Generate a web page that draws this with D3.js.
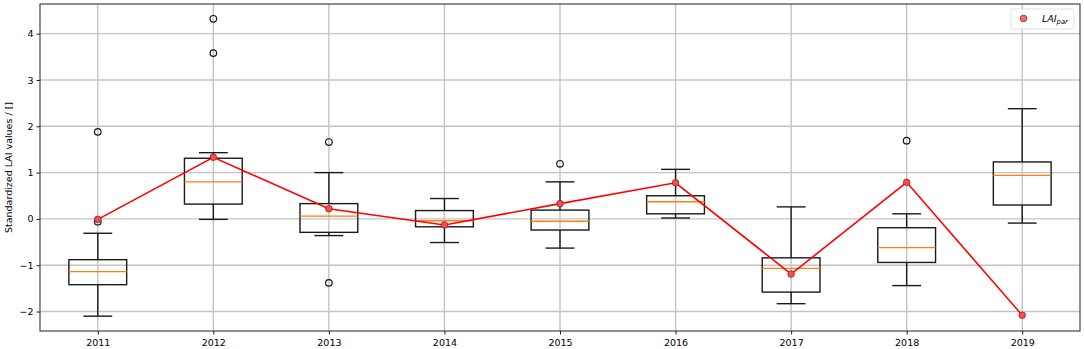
<!DOCTYPE html>
<html>
<head>
<meta charset="utf-8">
<script src="https://cdn.jsdelivr.net/npm/d3@7"></script>
<style>
  body { margin: 0; background: #fff; }
  svg { display: block; font-family: "DejaVu Sans", sans-serif; }
</style>
</head>
<body>
<svg id="boxPlot" width="1084" height="349"></svg>
<script>
// data
const years = ["2011", "2012", "2013", "2014", "2015", "2016", "2017", "2018", "2019"];
const whisker_low = [-2.10, -0.01, -0.36, -0.51, -0.63, 0.02, -1.83, -1.44, -0.09];
const q1 = [-1.42, 0.32, -0.29, -0.17, -0.24, 0.11, -1.58, -0.94, 0.30];
const medians = [-1.14, 0.80, 0.06, -0.04, -0.05, 0.37, -1.07, -0.62, 0.94];
const q3 = [-0.88, 1.31, 0.33, 0.18, 0.19, 0.50, -0.84, -0.19, 1.23];
const whisker_high = [-0.31, 1.43, 1.00, 0.44, 0.80, 1.07, 0.26, 0.11, 2.38];
const outliers = [[1.88, -0.06], [4.32, 3.58], [1.66, -1.38], [], [1.19], [], [], [1.69], []];
const lai_par = [-0.01, 1.33, 0.22, -0.13, 0.33, 0.78, -1.19, 0.79, -2.08];
const y_ticks = [-2, -1, 0, 1, 2, 3, 4];

const margin = { top: 4, right: 4, bottom: 18, left: 40 };
const svg = d3.select("#boxPlot");
const width = 1084 - margin.left - margin.right;
const height = 349 - margin.top - margin.bottom;

const x_scale = d3.scaleLinear().domain([0.5, 9.5]).range([0, width]);
const y_scale = d3.scaleLinear().domain([-2.42, 4.64]).range([height, 0]);

const g = svg.append("g")
    .attr("transform", `translate(${margin.left}, ${margin.top})`);

// grid
g.append("g").selectAll("line").data(years).join("line")
    .attr("x1", (d, i) => x_scale(i + 1)).attr("x2", (d, i) => x_scale(i + 1))
    .attr("y1", 0).attr("y2", height)
    .attr("stroke", "#c4c4c4").attr("stroke-width", 1.4);
g.append("g").selectAll("line").data(y_ticks).join("line")
    .attr("x1", 0).attr("x2", width)
    .attr("y1", (d) => y_scale(d)).attr("y2", (d) => y_scale(d))
    .attr("stroke", "#c4c4c4").attr("stroke-width", 1.4);

// boxes
const boxes = g.append("g").selectAll("g").data(years).join("g");
const half_box = (x_scale(1.25) - x_scale(1));
const half_cap = (x_scale(1.125) - x_scale(1));
const box_color = "#1a1a1a";
const box_width = 1.4;

boxes.append("line") // lower whisker
    .attr("x1", (d, i) => x_scale(i + 1)).attr("x2", (d, i) => x_scale(i + 1))
    .attr("y1", (d, i) => y_scale(q1[i])).attr("y2", (d, i) => y_scale(whisker_low[i]))
    .attr("stroke", box_color).attr("stroke-width", box_width);
boxes.append("line") // upper whisker
    .attr("x1", (d, i) => x_scale(i + 1)).attr("x2", (d, i) => x_scale(i + 1))
    .attr("y1", (d, i) => y_scale(q3[i])).attr("y2", (d, i) => y_scale(whisker_high[i]))
    .attr("stroke", box_color).attr("stroke-width", box_width);
boxes.append("line") // lower cap
    .attr("x1", (d, i) => x_scale(i + 1) - half_cap).attr("x2", (d, i) => x_scale(i + 1) + half_cap)
    .attr("y1", (d, i) => y_scale(whisker_low[i])).attr("y2", (d, i) => y_scale(whisker_low[i]))
    .attr("stroke", box_color).attr("stroke-width", box_width);
boxes.append("line") // upper cap
    .attr("x1", (d, i) => x_scale(i + 1) - half_cap).attr("x2", (d, i) => x_scale(i + 1) + half_cap)
    .attr("y1", (d, i) => y_scale(whisker_high[i])).attr("y2", (d, i) => y_scale(whisker_high[i]))
    .attr("stroke", box_color).attr("stroke-width", box_width);
boxes.append("rect")
    .attr("x", (d, i) => x_scale(i + 1) - half_box)
    .attr("width", half_box * 2)
    .attr("y", (d, i) => y_scale(q3[i]))
    .attr("height", (d, i) => y_scale(q1[i]) - y_scale(q3[i]))
    .attr("fill", "none").attr("stroke", box_color).attr("stroke-width", box_width);
boxes.append("line") // median
    .attr("x1", (d, i) => x_scale(i + 1) - half_box).attr("x2", (d, i) => x_scale(i + 1) + half_box)
    .attr("y1", (d, i) => y_scale(medians[i])).attr("y2", (d, i) => y_scale(medians[i]))
    .attr("stroke", "#ff7f0e").attr("stroke-width", 1.3);

// outliers
const flier_data = [];
outliers.forEach((vals, i) => vals.forEach((v) => flier_data.push({ pos: i + 1, value: v })));
g.append("g").selectAll("circle").data(flier_data).join("circle")
    .attr("cx", (d) => x_scale(d.pos))
    .attr("cy", (d) => y_scale(d.value))
    .attr("r", 3.3)
    .attr("fill", "none").attr("stroke", box_color).attr("stroke-width", 1.2);

// LAI_par line and points
const lai_data = lai_par.map((v, i) => ({ pos: i + 1, value: v }));
const lai_line = d3.line()
    .x((d) => x_scale(d.pos))
    .y((d) => y_scale(d.value));
g.append("path")
    .datum(lai_data)
    .attr("d", lai_line)
    .attr("fill", "none").attr("stroke", "#ff0000").attr("stroke-width", 1.6);
g.append("g").selectAll("circle").data(lai_data).join("circle")
    .attr("cx", (d) => x_scale(d.pos))
    .attr("cy", (d) => y_scale(d.value))
    .attr("r", 3.3)
    .attr("fill", "#f05050").attr("stroke", "#a01818").attr("stroke-width", 0.8);

// axes
const x_axis = g.append("g")
    .attr("transform", `translate(0, ${height})`)
    .call(d3.axisBottom(x_scale).tickValues(d3.range(1, 10)).tickFormat((d) => years[d - 1]).tickSizeOuter(0).tickSize(3.5));
const y_axis = g.append("g")
    .call(d3.axisLeft(y_scale).tickValues(y_ticks).tickFormat((d) => d < 0 ? "\u2212" + Math.abs(d) : d).tickSizeOuter(0).tickSize(3.5));
[x_axis, y_axis].forEach((ax) => {
    ax.select(".domain").remove();
    ax.selectAll("line").attr("stroke", "#000").attr("stroke-width", 0.9);
    ax.selectAll("text").attr("fill", "#000").attr("font-size", 9.5)
        .attr("font-family", "DejaVu Sans");
});
x_axis.selectAll("text").attr("dy", "0.9em");

// frame
g.append("rect")
    .attr("width", width).attr("height", height)
    .attr("fill", "none").attr("stroke", "#333").attr("stroke-width", 1.1);

// y label
svg.append("text")
    .attr("transform", `translate(12, ${margin.top + height / 2}) rotate(-90)`)
    .attr("text-anchor", "middle")
    .attr("font-size", 9.5)
    .text("Standardized LAI values / []");

// legend
const legend = g.append("g").attr("transform", `translate(${width - 69}, 5)`);
legend.append("rect")
    .attr("width", 63).attr("height", 20).attr("rx", 2.5)
    .attr("fill", "#fff").attr("fill-opacity", 0.85)
    .attr("stroke", "#d8d8d8").attr("stroke-width", 0.8);
legend.append("circle")
    .attr("cx", 12.5).attr("cy", 9.5).attr("r", 3.3)
    .attr("fill", "#f07070").attr("stroke", "#a01818").attr("stroke-width", 0.8);
const legend_text = legend.append("text")
    .attr("x", 31).attr("y", 13)
    .attr("font-size", 9.5).attr("font-style", "italic");
legend_text.append("tspan").text("LAI");
legend_text.append("tspan").attr("font-size", 6.8).attr("dy", 2).text("par");
</script>
</body>
</html>
